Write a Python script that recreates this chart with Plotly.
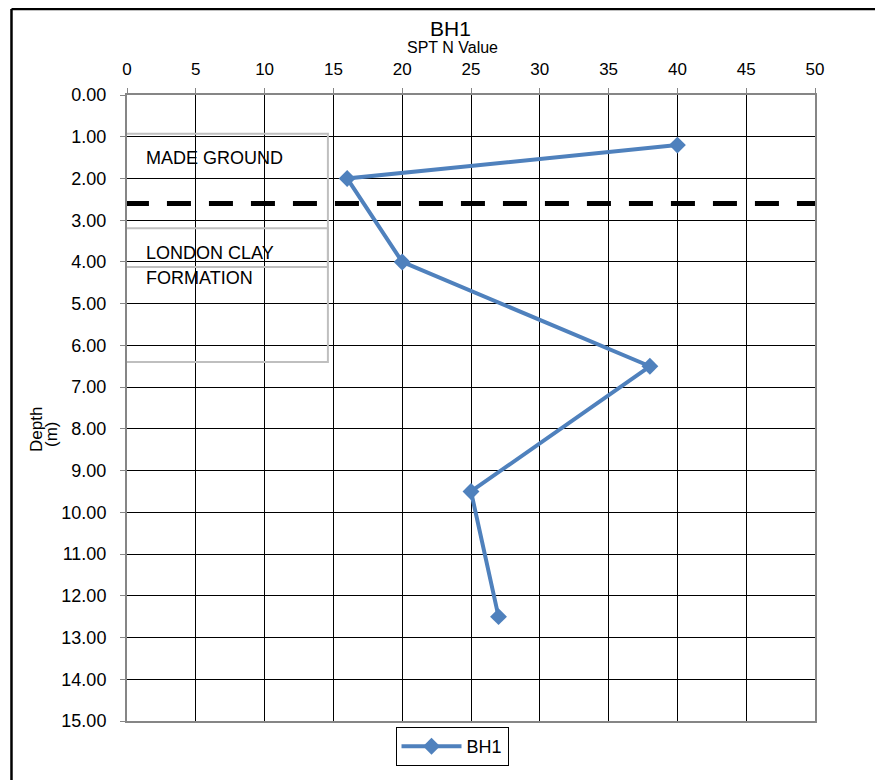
import plotly.graph_objects as go

# Data
spt_n = [40, 16, 20, 38, 25, 27]
depth = [1.2, 2.0, 4.0, 6.5, 9.5, 12.5]
series_name = "BH1"
boundary_depth = 2.6
x_ticks = list(range(0, 55, 5))
y_ticks = list(range(0, 16))

FONT = "Liberation Sans"
BLUE = "#4F81BD"

fig = go.Figure()
fig.add_trace(go.Scatter(
    x=spt_n, y=depth, mode="lines+markers", name=series_name,
    line=dict(color=BLUE, width=4),
    marker=dict(symbol="diamond", size=13, color=BLUE),
))

# Formation boundary (dashed)
fig.add_shape(type="line", xref="x", yref="y", x0=-0.15, x1=50.15,
              y0=boundary_depth, y1=boundary_depth,
              line=dict(color="black", width=5, dash="24px,18px"))

# Text boxes
fig.add_shape(type="rect", xref="x", yref="y", x0=-0.15, x1=14.6, y0=0.93, y1=4.12,
              line=dict(color="#BFBFBF", width=2), fillcolor="rgba(0,0,0,0)")
fig.add_shape(type="rect", xref="x", yref="y", x0=-0.15, x1=14.6, y0=3.19, y1=6.40,
              line=dict(color="#BFBFBF", width=2), fillcolor="rgba(0,0,0,0)")

for txt, yy in [("MADE GROUND", 1.51), ("LONDON CLAY", 3.79), ("FORMATION", 4.39)]:
    fig.add_annotation(xref="x", yref="y", x=1.2, y=yy, text=txt,
                       showarrow=False, xanchor="left", yanchor="middle",
                       font=dict(family=FONT, size=18, color="black"))

# Titles
fig.add_annotation(xref="paper", yref="paper", x=0.4695, y=1.1062, text="BH1",
                   showarrow=False, xanchor="center", yanchor="middle",
                   font=dict(family=FONT, size=21, color="black"))
fig.add_annotation(xref="paper", yref="paper", x=0.4724, y=1.0751, text="SPT N Value",
                   showarrow=False, xanchor="center", yanchor="middle",
                   font=dict(family=FONT, size=16, color="black"))
fig.add_annotation(xref="paper", yref="paper", x=-0.1308, y=0.4649, text="Depth",
                   showarrow=False, xanchor="center", yanchor="middle", textangle=-90,
                   font=dict(family=FONT, size=17, color="black"))
fig.add_annotation(xref="paper", yref="paper", x=-0.1090, y=0.4569, text="(m)",
                   showarrow=False, xanchor="center", yanchor="middle", textangle=-90,
                   font=dict(family=FONT, size=17, color="black"))

# Outer frame (top and left edges)
fig.add_shape(type="line", xref="paper", yref="paper", x0=-0.1679, x1=1.2,
              y0=1.1374, y1=1.1374, line=dict(color="black", width=2.5))
fig.add_shape(type="line", xref="paper", yref="paper", x0=-0.1679, x1=-0.1679,
              y0=-0.2, y1=1.1374, line=dict(color="black", width=2.5))

fig.update_layout(
    width=875, height=772,
    margin=dict(l=119, r=68, t=87, b=59),
    paper_bgcolor="white", plot_bgcolor="white",
    font=dict(family=FONT, size=18, color="black"),
    showlegend=True,
    legend=dict(x=0.4724, y=-0.0096, xanchor="center", yanchor="top",
                orientation="h", bordercolor="black", borderwidth=1,
                itemwidth=60,
                font=dict(family=FONT, size=18, color="black")),
    xaxis=dict(side="top", range=[0, 50], tickmode="array", tickvals=x_ticks,
               showgrid=True, gridcolor="black", gridwidth=1,
               showline=True, linecolor="#868686", linewidth=2, mirror=True,
               ticks="outside", ticklen=5, tickcolor="#868686",
               ticklabelstandoff=6,
               zeroline=False, tickfont=dict(size=17)),
    yaxis=dict(range=[15, 0], tickmode="array", tickvals=y_ticks, tickformat=".2f",
               showgrid=True, gridcolor="black", gridwidth=1,
               showline=True, linecolor="#868686", linewidth=2, mirror=True,
               ticks="outside", ticklen=5, tickcolor="#868686",
               ticklabelstandoff=10,
               zeroline=False, tickfont=dict(size=18)),
)

fig.write_html("out.html")
